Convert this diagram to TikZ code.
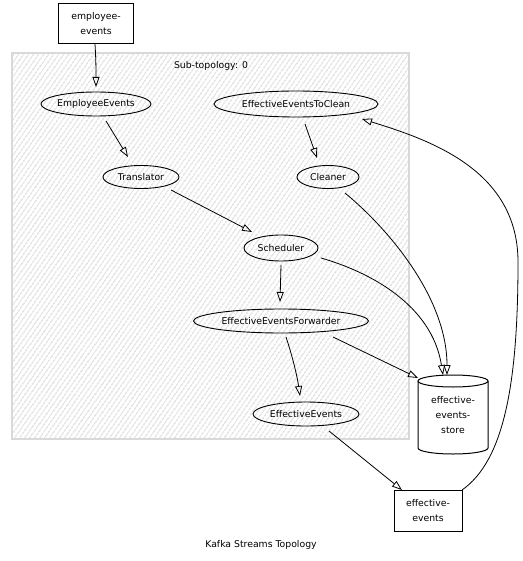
\documentclass[tikz,border=0pt]{standalone}
\usepackage{fontspec}
\setmainfont{DejaVu Sans}
\usetikzlibrary{arrows.meta,shapes.geometric,patterns.meta}
\begin{document}
\begin{tikzpicture}[x=1pt,y=-1pt,
  font=\fontsize{9.3}{15}\selectfont,
  proc/.style={draw, ellipse, line width=0.9pt, inner sep=0pt},
  topic/.style={draw, rectangle, line width=1pt, align=center, inner sep=0pt},
  edge/.style={line width=0.8pt, -{Triangle[open, length=10pt, width=7pt]}},
  plain/.style={line width=0.8pt}]
\useasboundingbox (0,0) rectangle (522,561);
% sub-topology box
\fill[pattern={Lines[angle=55, distance=4pt, line width=0.6pt]}, pattern color=black!30] (12,53) rectangle (409,439);
\draw[black!15, line width=1.2pt] (12,53) rectangle (409,439);
\node (sublabel) at (211,66) {Sub-topology: 0};
% topics
\node[topic, fill=white, minimum width=75pt, minimum height=40pt] (empev) at (96,24) {employee-\\events};
\node[topic, fill=white, minimum width=68pt, minimum height=41pt] (effev) at (428,511) {effective-\\events};
% processors
\node[proc, minimum width=110pt, minimum height=24pt] (EE) at (96,104) {EmployeeEvents};
\node[proc, minimum width=164pt, minimum height=26pt] (EETC) at (296,104) {EffectiveEventsToClean};
\node[proc, minimum width=76pt, minimum height=23pt] (TR) at (141,177) {Translator};
\node[proc, minimum width=62pt, minimum height=23pt] (CL) at (328,177) {Cleaner};
\node[proc, minimum width=74pt, minimum height=26pt] (SC) at (281,248) {Scheduler};
\node[proc, minimum width=175pt, minimum height=24pt] (EEF) at (281,321) {EffectiveEventsForwarder};
\node[proc, minimum width=106pt, minimum height=24pt] (EEV) at (306,414) {EffectiveEvents};
% store cylinder
\fill[white] (418,381) -- (418,448) arc[start angle=180, end angle=360, x radius=35pt, y radius=6pt] -- (488,381) -- cycle;
\draw[line width=1pt] (418,381) -- (418,448) arc[start angle=180, end angle=360, x radius=35pt, y radius=6pt] -- (488,381);
\draw[line width=1pt, fill=white] (453,381) ellipse[x radius=35pt, y radius=6pt];
\node[align=center, minimum width=70pt, minimum height=78pt, inner sep=0pt] (store) at (453,415) {effective-\\events-\\store};
\coordinate (stA) at (418,378);
\coordinate (stB) at (443,375);
\coordinate (stC) at (447,375);
\node[inner sep=0pt] (cap) at (261,545) {Kafka Streams Topology};
% edges
\draw[edge] ([shift={(-1,20)}]empev.center) .. controls (96,60) and (96,70) .. ([shift={(0,-17)}]EE.center);
\draw[edge] ([shift={(10,17)}]EE.center) -- ([shift={(-13,-20)}]TR.center);
\draw[edge] ([shift={(30,13)}]TR.center) -- ([shift={(-29,-16)}]SC.center);
\draw[edge] ([shift={(9,20)}]EETC.center) -- ([shift={(-11,-19)}]CL.center);
\draw[edge] ([shift={(0,17)}]SC.center) -- ([shift={(-1,-19)}]EEF.center);
\draw[edge] ([shift={(5,16)}]EEF.center) .. controls (292,355) and (297,375) .. ([shift={(-6,-18)}]EEV.center);
\draw[edge] ([shift={(52,16)}]EEF.center) -- (stA);
\draw[edge] ([shift={(40,10)}]SC.center) .. controls (370,272) and (432,305) .. (stB);
\draw[edge] ([shift={(17,16)}]CL.center) .. controls (392,232) and (447,300) .. (stC);
\draw[edge] ([shift={(23,17)}]EEV.center) -- ([shift={(-26,-21)}]effev.center);
\draw[edge] ([shift={(34,-21)}]effev.center) .. controls (505,460) and (518,380) .. (518,262) .. controls (518,170) and (430,140) .. ([shift={(66,15)}]EETC.center);
\end{tikzpicture}
\end{document}
